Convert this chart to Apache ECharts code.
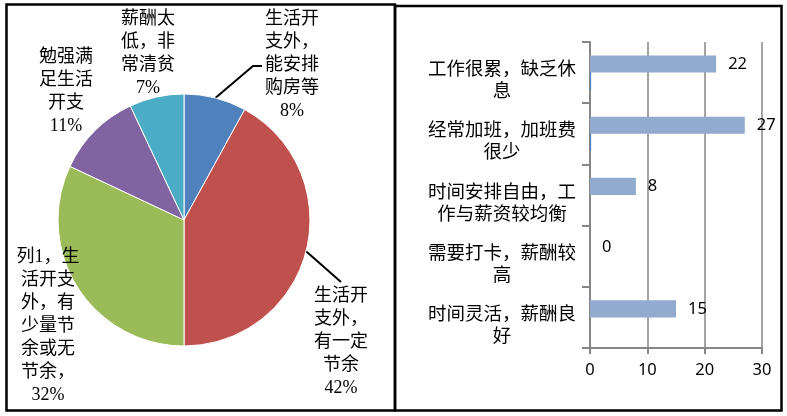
<!DOCTYPE html>
<html>
<head>
<meta charset="utf-8">
<script src="https://cdn.jsdelivr.net/npm/echarts@6/dist/echarts.min.js"></script>
<style>
  html, body { margin: 0; padding: 0; background: #fff; }
  #main { width: 787px; height: 416px; }
</style>
</head>
<body>
<div id="main"></div>
<script>
// 饼图数据
var pieNames = ['生活开支外，能安排购房等', '生活开支外，有一定节余', '生活开支外，有少量节余或无节余', '勉强满足生活开支', '薪酬太低，非常清贫'];
var pieValues = [8, 42, 32, 11, 7];
var pieLabelText = ['生活开\n支外，\n能安排\n购房等', '生活开\n支外，\n有一定\n节余', '列1，生\n活开支\n外，有\n少量节\n余或无\n节余，', '勉强满\n足生活\n开支', '薪酬太\n低，非\n常清贫'];
var pieColors = ['#4F81BD', '#C0504D', '#9BBB59', '#8064A2', '#4BACC6'];

// 条形图数据
var barCats = ['工作很累，缺乏休息', '经常加班，加班费很少', '时间安排自由，工作与薪资较均衡', '需要打卡，薪酬较高', '时间灵活，薪酬良好'];
var barValues = [22, 27, 8, 0, 15];
var barValues2 = [0.2, 0.2, 0, 0, 0];
var xTicks = [0, 10, 20, 30];

// 标签位置（中心x, 顶部y）
var labelPos = [[292, 8], [341, 285], [48, 246], [66, 46], [148, 8]];

var myChart = echarts.init(document.getElementById('main'));

var serifFont = "'Liberation Serif', 'Noto Sans CJK SC', serif";
var cjkFont = "'Noto Sans CJK SC', sans-serif";
var numFont = "'Noto Sans', sans-serif";

var option = {
    animation: false,
    graphic: [
        { type: 'rect', z: 100, shape: { x: 6.5, y: 4.5, width: 388.5, height: 406 }, style: { fill: 'none', stroke: '#000', lineWidth: 2.5 } },
        { type: 'rect', z: 100, shape: { x: 395, y: 6, width: 386.5, height: 404.5 }, style: { fill: 'none', stroke: '#000', lineWidth: 2.5 } }
    ],
    grid: {
        left: 590, top: 42, right: 25, bottom: 68,
        containLabel: false,
        outerBoundsMode: 'none'
    },
    xAxis: {
        type: 'value',
        min: xTicks[0],
        max: xTicks[xTicks.length - 1],
        interval: xTicks[1] - xTicks[0],
        axisLine: { show: true, lineStyle: { color: '#868686', width: 2 } },
        axisTick: { show: true, length: 6, lineStyle: { color: '#868686', width: 2 } },
        splitLine: { show: true, lineStyle: { color: '#868686', width: 1.5 } },
        axisLabel: { color: '#000', fontFamily: numFont, fontSize: 16.5, margin: 14 }
    },
    yAxis: {
        type: 'category',
        inverse: true,
        data: barCats,
        axisLine: { show: true, lineStyle: { color: '#868686', width: 2 } },
        axisTick: { show: true, length: 8, lineStyle: { color: '#868686', width: 2 } },
        axisLabel: {
            interval: 0,
            hideOverlap: false,
            color: '#000',
            fontFamily: cjkFont,
            fontSize: 18.5,
            align: 'center',
            margin: 88,
            formatter: function (v) {
                // 每行8个字，上方留一段空白让文字略偏下
                var out = ['{s| }'];
                for (var i = 0; i < v.length; i += 8) out.push('{t|' + v.slice(i, i + 8) + '}');
                return out.join('\n');
            },
            rich: {
                s: { fontSize: 2, lineHeight: 13 },
                t: { fontSize: 18.5, lineHeight: 22, fontFamily: cjkFont, color: '#000' }
            }
        }
    },
    series: [
        {
            name: '列1',
            type: 'bar',
            data: barValues,
            barGap: '0%',
            barCategoryGap: '44%',
            itemStyle: { color: '#93AACF' },
            label: { show: true, position: 'right', distance: 12, color: '#000', fontFamily: numFont, fontSize: 16.5 }
        },
        {
            name: '列2',
            type: 'bar',
            data: barValues2,
            itemStyle: { color: '#4F81BD' }
        },
        {
            name: '列1',
            type: 'pie',
            center: [184, 220],
            radius: 126,
            startAngle: 90,
            clockwise: true,
            itemStyle: { borderColor: '#fff', borderWidth: 1 },
            data: pieValues.map(function (v, i) {
                return {
                    value: v,
                    name: pieNames[i],
                    itemStyle: { color: pieColors[i] },
                    labelLine: { show: i < 2 }
                };
            }),
            label: {
                show: true,
                position: 'outside',
                overflow: 'none',
                color: '#000',
                fontFamily: serifFont,
                fontSize: 18,
                lineHeight: 23,
                align: 'center',
                formatter: function (p) {
                    return pieLabelText[p.dataIndex] + '\n' + p.percent.toFixed(0) + '%';
                }
            },
            labelLine: { lineStyle: { color: '#000', width: 2 }, length: 10, length2: 10 },
            labelLayout: function (p) {
                var a = labelPos[p.dataIndex];
                var res = { x: a[0], y: a[1], align: 'center', verticalAlign: 'top' };
                var s = p.labelLinePoints ? p.labelLinePoints[0] : null;
                if (s && p.dataIndex === 0) {
                    res.labelLinePoints = [s, [253, 66], [262, 66]];
                } else if (s && p.dataIndex === 1) {
                    res.labelLinePoints = [s, [341, 282], [341, 282]];
                }
                return res;
            }
        }
    ]
};

myChart.setOption(option);
</script>
</body>
</html>
